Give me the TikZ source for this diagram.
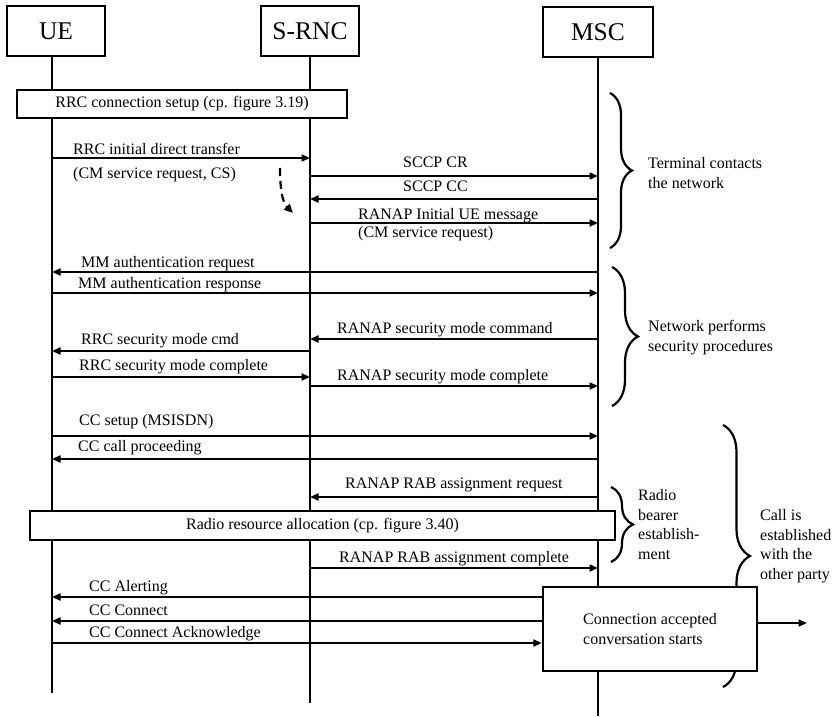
\documentclass[tikz,border=0pt]{standalone}
\usepackage{fontspec}
\setmainfont{Liberation Serif}
\usetikzlibrary{arrows.meta,decorations.pathreplacing,calc}
\begin{document}
\begin{tikzpicture}[x=1pt,y=-1pt,
  hdr/.style={draw,line width=2.4pt,minimum width=98pt,minimum height=50pt,inner sep=0pt,font=\fontsize{25.5}{28}\selectfont},
  life/.style={line width=2.6pt},
  msg/.style={line width=2pt,-{Triangle[length=8.5pt,width=7pt]}},
  lbl/.style={anchor=base west,inner sep=0pt,font=\fontsize{16}{19.5}\selectfont},
  mlbl/.style={lbl,align=left},
  bar/.style={draw,line width=2.4pt,fill=white,inner sep=0pt,font=\fontsize{16}{19.5}\selectfont},
  brc/.style={line width=2.2pt,decorate,decoration={brace,amplitude=#1}},
]
\useasboundingbox (0,0) rectangle (833,717);

% headers
\node[hdr] (ue) at (56,31) {UE};
\node[hdr] (rnc) at (310,31) {S-RNC};
\node[hdr,minimum width=110pt] (msc) at (598,32) {MSC};

% lifelines
\coordinate (ueT) at (52,56);
\coordinate (ueB) at (52,693);
\draw[life] (ueT) -- (ueB);
\draw[life] (rnc.south) -- (rnc.south |- 0,703);
\draw[life] (msc.south) -- (msc.south |- 0,716);

% messages
\draw[msg] (ueT |- 0,158) -- (rnc.south |- 0,158);
\node[lbl] (l1) at (73,154) {RRC initial direct transfer};
\node[lbl] (l1b) at (73,178) {(CM service request, CS)};

\draw[msg] (rnc.south |- 0,176) -- (msc.south |- 0,176);
\node[lbl] (l2) at (403,167) {SCCP CR};
\draw[msg] (msc.south |- 0,199) -- (rnc.south |- 0,199);
\node[lbl] (l3) at (403,191) {SCCP CC};
\draw[msg] (rnc.south |- 0,223) -- (msc.south |- 0,223);
\node[lbl] (l4) at (358,219) {RANAP Initial UE message};
\node[lbl] (l4b) at (358,237) {(CM service request)};

\coordinate (d1) at (280,168);
\coordinate (d2) at (293,213);
\draw[line width=2.2pt,dash pattern=on 8pt off 5pt,-{Triangle[length=9pt,width=8pt]}] (d1) .. controls (280,195) and (284,204) .. (d2);

\draw[msg] (msc.south |- 0,272) -- (ueT |- 0,272);
\node[lbl] (l5) at (81,267) {MM authentication request};
\draw[msg] (ueT |- 0,293) -- (msc.south |- 0,293);
\node[lbl] (l6) at (78,288) {MM authentication response};

\draw[msg] (msc.south |- 0,339) -- (rnc.south |- 0,339);
\node[lbl] (l7) at (337,333) {RANAP security mode command};
\draw[msg] (rnc.south |- 0,351) -- (ueT |- 0,351);
\node[lbl] (l8) at (81,344) {RRC security mode cmd};
\draw[msg] (ueT |- 0,377) -- (rnc.south |- 0,377);
\node[lbl] (l9) at (79,370) {RRC security mode complete};
\draw[msg] (rnc.south |- 0,386) -- (msc.south |- 0,386);
\node[lbl] (l10) at (337,380) {RANAP security mode complete};

\draw[msg] (ueT |- 0,436) -- (msc.south |- 0,436);
\node[lbl] (l11) at (79,425) {CC setup (MSISDN)};
\draw[msg] (msc.south |- 0,459) -- (ueT |- 0,459);
\node[lbl] (l12) at (78,451) {CC call proceeding};

\draw[msg] (msc.south |- 0,497) -- (rnc.south |- 0,497);
\node[lbl] (l13) at (345,488) {RANAP RAB assignment request};
\draw[msg] (rnc.south |- 0,568) -- (msc.south |- 0,568);
\node[lbl] (l14) at (339,562) {RANAP RAB assignment complete};

% braces (multi-line labels anchored at the baseline of their last line)
\draw[brc=22pt] (610,93) -- (610,248);
\node[mlbl] (b1) at (648,188) {Terminal contacts\\the network};
\draw[brc=26pt] (612,267) -- (612,406);
\node[mlbl] (b2) at (648,351) {Network performs\\security procedures};
\draw[brc=22pt] (611,487) -- (611,562);
\node[mlbl] (b4) at (638,559) {Radio\\bearer\\establish-\\ment};
\draw[brc=27pt] (723,425) -- (723,687);
\node[mlbl] (b3) at (760,579) {Call is\\established\\with the\\other party};

% boxes
\node[bar,minimum width=330pt,minimum height=28pt] (rrc) at (182,104) {RRC connection setup (cp. figure 3.19)};
\node[bar,minimum width=585pt,minimum height=29pt] (rra) at (322.5,525.5) {Radio resource allocation (cp. figure 3.40)};
\node[bar,minimum width=214pt,minimum height=84pt,align=left] (conn) at (650,629) {Connection accepted\\conversation starts};

% final messages
\draw[msg] (conn.west |- 0,597) -- (ueT |- 0,597);
\node[lbl] (l15) at (89,591) {CC Alerting};
\draw[msg] (conn.west |- 0,621) -- (ueT |- 0,621);
\node[lbl] (l16) at (89,615) {CC Connect};
\draw[msg] (ueT |- 0,643) -- (conn.west |- 0,643);
\node[lbl] (l17) at (89,637) {CC Connect Acknowledge};

\coordinate (out) at (807,623);
\draw[msg] (conn.east |- out) -- (out);
\end{tikzpicture}
\end{document}
